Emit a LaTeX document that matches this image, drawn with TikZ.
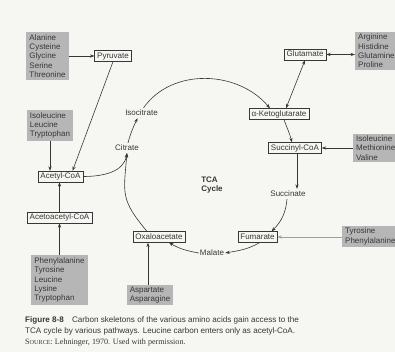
\documentclass[tikz,border=0pt]{standalone}
\usepackage{fontspec}
\setmainfont{Liberation Serif}
\setsansfont{Liberation Sans}
\usetikzlibrary{arrows.meta, positioning}

\definecolor{paper}{RGB}{246,246,243}
\definecolor{feedgray}{RGB}{182,182,182}
\definecolor{ink}{RGB}{55,55,55}

\tikzset{
  >={Stealth[length=4.5pt,width=3.2pt]},
  every node/.style={font=\sffamily\fontsize{8}{9.4}\selectfont, text=ink},
  cmpd/.style={draw=ink, line width=0.5pt, inner xsep=2.5pt, inner ysep=1.5pt,
    text height=6pt, text depth=1.8pt},
  feed/.style={fill=feedgray, align=left, inner xsep=3pt, inner ysep=2pt},
  lbl/.style={inner sep=1pt, text height=6pt, text depth=1.8pt},
  flow/.style={->, draw=ink, line width=0.6pt},
}

\begin{document}
\begin{tikzpicture}[x=1pt, y=1pt]
    \useasboundingbox[fill=paper] (0,0) rectangle (395,352);

    % feeders on the left
    \node[feed] (ala) at (47.5,296) {Alanine\\Cysteine\\Glycine\\Serine\\Threonine};
    \node[cmpd] (pyr) at (113,296) {Pyruvate};
    \node[feed] (ile) at (50,226.5) {Isoleucine\\Leucine\\Tryptophan};
    \node[cmpd] (acetyl) at (60.5,175.5) {Acetyl-CoA};
    \node[cmpd] (acac) at (59.5,134.5) {Acetoacetyl-CoA};
    \node[feed] (phe) at (59.5,72) {Phenylalanine\\Tyrosine\\Leucine\\Lysine\\Tryptophan};

    % the cycle
    \node[lbl] (isocit) at (141.5,239) {Isocitrate};
    \node[lbl] (citrate) at (127,204) {Citrate};
    \node[align=left, font=\sffamily\bfseries\fontsize{8}{9.4}\selectfont] (tca) at (212,167) {TCA\\Cycle};
    \node[cmpd] (akg) at (279,238) {α-Ketoglutarate};
    \node[cmpd] (succoa) at (295,204) {Succinyl-CoA};
    \node[lbl] (succ) at (288,158) {Succinate};
    \node[cmpd] (fum) at (257.5,115) {Fumarate};
    \node[lbl] (mal) at (212,99) {Malate};
    \node[cmpd] (oxa) at (159,115) {Oxaloacetate};

    % feeders on the right and below
    \node[cmpd] (glu) at (305,297.5) {Glutamate};
    \node[feed, anchor=west] (arg) at (355,301) {Arginine\\Histidine\\Glutamine\\Proline};
    \node[feed, anchor=west] (ile2) at (353,204) {Isoleucine\\Methionine\\Valine};
    \node[feed, anchor=west] (tyr) at (342,115.5) {Tyrosine\\Phenylalanine};
    \node[feed] (asp) at (150,57) {Aspartate\\Asparagine};

    % caption
    \node[anchor=north west, align=left, inner sep=0pt,
      font=\sffamily\fontsize{8.1}{11}\selectfont] (cap) at (25,36)
      {\textbf{Figure 8-8}\quad Carbon skeletons of the various amino acids gain access to the\\
       TCA cycle by various pathways. Leucine carbon enters only as acetyl-CoA.\\
       {\rmfamily S{\fontsize{6.2}{11}\selectfont OURCE}: Lehninger, 1970. Used with permission.}};

    % arrows into acetyl-CoA
    \draw[flow] (ala.east |- pyr) -- (pyr.west);
    \draw[flow] (pyr.south) -- ([xshift=12pt]acetyl.north);
    \draw[flow] (ile.south) -- (ile.south |- acetyl.north);
    \draw[flow] (phe.north) -- (phe.north |- acac.south);
    \draw[flow] (acac.north) -- (acac.north |- acetyl.south);

    % round the cycle
    \draw[flow] (acetyl.east) to[out=0, in=-100] (citrate.south);
    \draw[flow] ([xshift=-12pt]oxa.north) to[out=130, in=-95, looseness=1.3] (citrate.south);
    \draw[flow] ([xshift=1pt]citrate.north) to[out=75, in=-115] ([xshift=-4pt]isocit.south);
    \draw[flow] ([xshift=2pt]isocit.north) to[out=55, in=130] ([xshift=-9pt]akg.north);
    \draw[flow] ([xshift=5pt]akg.south) to[out=-70, in=105] ([xshift=-3pt]succoa.north);
    \draw[flow] ([xshift=2pt]succoa.south) -- ([xshift=9pt]succ.north);
    \draw[flow] ([xshift=-1pt]succ.south) to[out=-95, in=45] ([xshift=14pt]fum.north);
    \draw[flow] ([xshift=2pt]fum.south) to[out=-150, in=10] (mal.east);
    \draw[flow] (mal.west) to[out=170, in=-30] ([xshift=10pt]oxa.south);

    % arrows from the amino acids
    \draw[flow, <->] (glu.east) -- (glu.east -| arg.west);
    \draw[flow, <->] (glu.south) -- ([xshift=7pt]akg.north);
    \draw[flow] (ile2.west |- succoa) -- (succoa.east);
    \draw[flow, draw=gray!75] (tyr.west |- fum) -- (fum.east);
    \draw[flow] ([xshift=-2pt]asp.north) -- ([xshift=-2pt]asp.north |- oxa.south);
\end{tikzpicture}
\end{document}
